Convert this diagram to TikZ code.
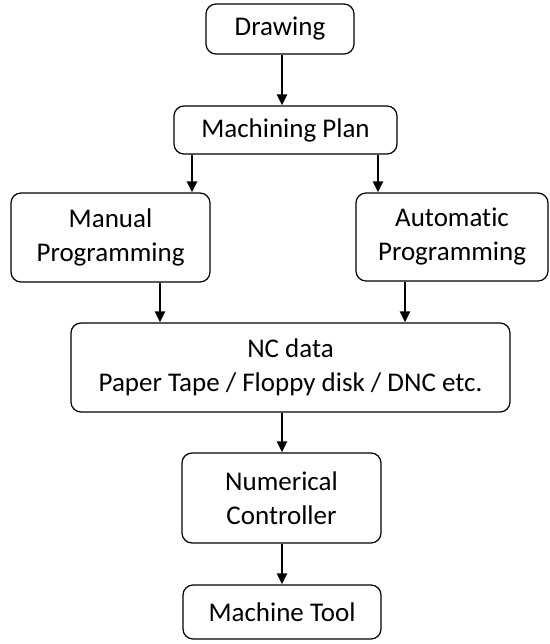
\documentclass[tikz,border=0pt]{standalone}
\usepackage{fontspec}
\setmainfont{Carlito}[Ligatures=NoCommon]
\usetikzlibrary{arrows.meta}
\begin{document}
\begin{tikzpicture}[x=1pt,y=-1pt,
  box/.style={draw, rounded corners=10pt, line width=1.2pt, align=center, inner sep=0pt,
    font=\fontsize{27}{34}\selectfont},
  arr/.style={line width=2.6pt, -{Triangle[length=11pt,width=10pt]}}]
\useasboundingbox (0,0) rectangle (549,644);
\node[box, minimum width=148pt, minimum height=50pt] (drawing) at (280,29) {Drawing};
\node[box, minimum width=223pt, minimum height=48pt] (plan) at (285.5,130) {Machining Plan};
\node[box, minimum width=199pt, minimum height=89pt] (manual) at (110.5,237.5) {Manual\\Programming};
\node[box, minimum width=192pt, minimum height=88pt] (auto) at (452,237) {Automatic\\Programming};
\node[box, minimum width=439pt, minimum height=89pt] (nc) at (290.5,367.5) {NC data\\Paper Tape / Floppy disk / DNC etc.};
\node[box, minimum width=199pt, minimum height=90pt] (num) at (281.5,498) {Numerical\\Controller};
\node[box, minimum width=198pt, minimum height=54pt] (tool) at (282,612) {Machine Tool};
\draw[arr] (drawing.south -| 282,0) -- (plan.north -| 282,0);
\draw[arr] (plan.south -| 192,0) -- (manual.north -| 192,0);
\draw[arr] (plan.south -| 378,0) -- (auto.north -| 378,0);
\draw[arr] (manual.south -| 160,0) -- (nc.north -| 160,0);
\draw[arr] (auto.south -| 405,0) -- (nc.north -| 405,0);
\draw[arr] (nc.south -| 282,0) -- (num.north -| 282,0);
\draw[arr] (num.south -| 282,0) -- (tool.north -| 282,0);
\end{tikzpicture}
\end{document}
